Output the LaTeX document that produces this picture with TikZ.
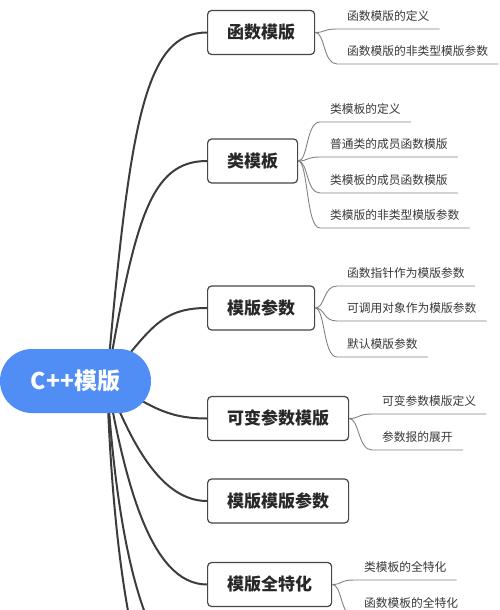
\documentclass[tikz,border=0pt]{standalone}
\usepackage{fontspec}
\newfontfamily\cjk{Noto Sans CJK SC}
\usetikzlibrary{backgrounds}
\definecolor{rootblue}{RGB}{80,142,245}
\definecolor{mainline}{RGB}{60,60,60}
\definecolor{subline}{RGB}{130,130,130}
\definecolor{boxline}{RGB}{70,70,70}
\definecolor{txt}{RGB}{40,40,40}
\definecolor{subtxt}{RGB}{55,55,55}
\begin{document}
\begin{tikzpicture}[x=1pt,y=-1pt,
 rootnode/.style={fill=rootblue, rounded corners=32pt, minimum width=151pt, minimum height=64pt, inner sep=0pt, text=white, font=\cjk\bfseries\fontsize{23}{26}\selectfont},
 mainnode/.style={draw=boxline, line width=1.2pt, fill=white, rounded corners=4pt, minimum height=44pt, inner xsep=19.5pt, inner ysep=0pt, anchor=west, text=txt, font=\cjk\bfseries\fontsize{17}{20}\selectfont},
 subnode/.style={anchor=south west, inner xsep=10pt, inner ysep=8.5pt, text depth=0pt, text=subtxt, font=\cjk\fontsize{11.75}{14}\selectfont},
 mainlink/.style={draw=mainline, line width=2pt},
 sublink/.style={draw=subline, line width=0.9pt},
]
\useasboundingbox (0,0) rectangle (500,610);
\clip (0,0) rectangle (500,610);

% root
\node[rootnode] (root) at (75.5,381) {C++模版};
\coordinate (rc) at (107,381);
\coordinate (off1) at (207,680);
\coordinate (off2) at (207,760);

% main topics
\node[mainnode] (b1) at (207,32.5) {函数模版};
\node[mainnode] (b2) at (207,161) {类模板};
\node[mainnode] (b3) at (207,308) {模版参数};
\node[mainnode] (b4) at (207,418.5) {可变参数模版};
\node[mainnode] (b5) at (207,501) {模版模版参数};
\node[mainnode] (b6) at (207,584.5) {模版全特化};

% subtopics
\node[subnode] (c11) at (337,29) {函数模版的定义};
\node[subnode] (c12) at (337,64) {函数模版的非类型模版参数};

\node[subnode] (c21) at (320,122) {类模板的定义};
\node[subnode] (c22) at (320,157) {普通类的成员函数模版};
\node[subnode] (c23) at (320,193) {类模板的成员函数模版};
\node[subnode] (c24) at (320,228) {类模版的非类型模版参数};

\node[subnode] (c31) at (337,286) {函数指针作为模版参数};
\node[subnode] (c32) at (337,321) {可调用对象作为模版参数};
\node[subnode] (c33) at (337,357) {默认模版参数};

\node[subnode] (c41) at (372,414) {可变参数模版定义};
\node[subnode] (c42) at (372,450) {参数报的展开};

\node[subnode] (c61) at (354,580) {类模板的全特化};
\node[subnode] (c62) at (354,616) {函数模板的全特化};

\begin{scope}[on background layer]
\draw[mainlink] (rc) .. controls (130,120) and (145,32.5) .. (b1.west);
\draw[mainlink] (rc) .. controls (135,220) and (150,161) .. (b2.west);
\draw[mainlink] (rc) .. controls (150,330) and (160,308) .. (b3.west);
\draw[mainlink] (rc) .. controls (150,405) and (165,418.5) .. (b4.west);
\draw[mainlink] (rc) .. controls (130,440) and (160,501) .. (b5.west);
\draw[mainlink] (rc) .. controls (125,480) and (150,584.5) .. (b6.west);
\draw[mainlink] (rc) .. controls (118,560) and (150,680) .. (off1);
\draw[mainlink] (rc) .. controls (115,620) and (150,760) .. (off2);
\end{scope}

\foreach \b/\c in {b1/c11,b1/c12,b2/c21,b2/c22,b2/c23,b2/c24,b3/c31,b3/c32,b3/c33,b4/c41,b4/c42,b6/c61,b6/c62}{
  \draw[sublink] (\b.east) .. controls +(10,0) and +(-14,0) .. (\c.south west) -- (\c.south east);
}
\end{tikzpicture}
\end{document}
